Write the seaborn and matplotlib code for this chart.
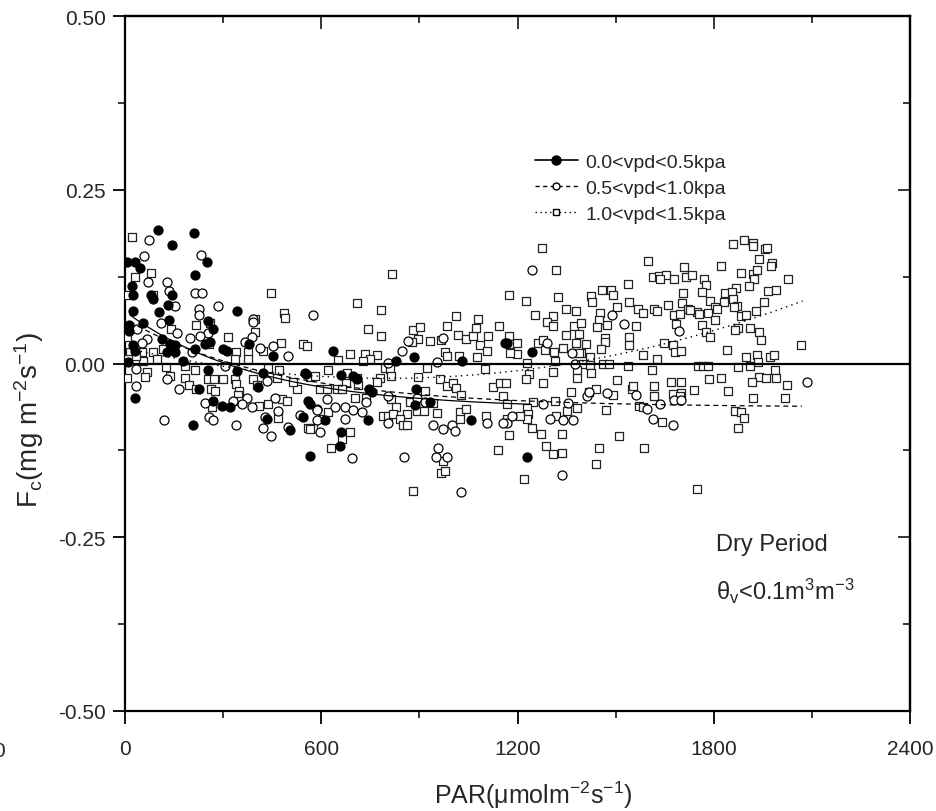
import numpy as np
import pandas as pd
import seaborn as sns
import matplotlib.pyplot as plt
from matplotlib.lines import Line2D
from matplotlib.ticker import MultipleLocator, FixedLocator, FixedFormatter

sns.set_style("ticks")
plt.rcParams['font.family'] = ['Liberation Sans', 'DejaVu Sans']
plt.rcParams['mathtext.fontset'] = 'custom'
plt.rcParams['mathtext.rm'] = 'Liberation Sans'
plt.rcParams['mathtext.default'] = 'regular'
plt.rcParams['axes.unicode_minus'] = False

# (PAR, Fc), one list per vpd class
low_vpd = [
    (102, 0.192), (211, 0.188), (145, 0.170), (6, 0.146), (31, 0.146), (46, 0.138),
    (251, 0.146), (214, 0.128), (20, 0.112), (25, 0.099), (78, 0.098), (87, 0.093),
    (143, 0.098), (132, 0.084), (25, 0.076), (104, 0.074), (341, 0.075), (255, 0.061),
    (135, 0.062), (56, 0.059), (13, 0.056), (13, 0.047), (270, 0.049), (112, 0.035),
    (300, 0.021), (311, 0.018), (260, 0.031), (245, 0.028), (379, 0.028), (153, 0.016),
    (178, 0.004), (341, -0.011), (255, -0.009), (423, -0.013), (550, -0.013), (31, -0.050),
    (227, -0.037), (270, -0.054), (296, -0.061), (321, -0.063), (408, -0.034), (433, -0.080),
    (505, -0.095), (209, -0.088), (560, -0.054), (566, -0.058), (566, -0.133), (453, 0.011),
    (637, 0.018), (885, 0.009), (828, 0.003), (1029, 0.003), (659, -0.017), (698, -0.018),
    (708, -0.022), (746, -0.036), (754, -0.041), (890, -0.037), (887, -0.060), (932, -0.056),
    (611, -0.082), (744, -0.081), (659, -0.098), (657, -0.119), (1058, -0.081), (1167, 0.030),
    (1162, 0.030), (1243, 0.016), (1228, -0.135), (25, 0.026), (31, 0.018), (10, 0.002),
    (153, 0.026), (138, 0.028), (214, 0.021), (127, 0.016), (553, -0.015), (545, -0.077),
]

mid_vpd = [
    (74, 0.178), (58, 0.154), (231, 0.156), (127, 0.117), (135, 0.105), (69, 0.118),
    (214, 0.102), (234, 0.101), (153, 0.083), (285, 0.083), (226, 0.078), (226, 0.070),
    (109, 0.058), (392, 0.064), (392, 0.060), (576, 0.070), (36, 0.050), (160, 0.044),
    (255, 0.044), (199, 0.036), (229, 0.039), (66, 0.035), (51, 0.030), (367, 0.031),
    (387, 0.038), (453, 0.025), (499, 0.011), (413, 0.022), (204, 0.016), (306, -0.003),
    (34, -0.008), (127, -0.022), (34, -0.033), (166, -0.036), (433, -0.025), (459, -0.050),
    (372, -0.049), (357, -0.058), (387, -0.063), (245, -0.057), (331, -0.054), (469, -0.068),
    (535, -0.074), (428, -0.077), (258, -0.077), (268, -0.082), (119, -0.082), (339, -0.088),
    (423, -0.093), (445, -0.104), (499, -0.092), (586, -0.065), (586, -0.082), (596, -0.099),
    (848, 0.018), (866, 0.033), (973, 0.036), (953, 0.002), (805, 0.001), (617, -0.051),
    (642, -0.062), (588, -0.067), (673, -0.063), (696, -0.067), (724, -0.070), (738, -0.055),
    (805, -0.047), (892, -0.050), (917, -0.056), (805, -0.085), (673, -0.080), (943, -0.089),
    (973, -0.094), (999, -0.089), (1009, -0.097), (695, -0.136), (854, -0.135), (958, -0.121),
    (951, -0.135), (983, -0.135), (1026, -0.185), (1108, -0.086), (1167, -0.085),
    (1245, 0.134), (1490, 0.070), (1527, 0.057), (1695, 0.047), (1289, 0.030), (1366, 0.015),
    (1377, -0.001), (1413, -0.047), (1420, -0.041), (1474, -0.043), (1562, -0.046), (1597, -0.066),
    (1636, -0.058), (1678, -0.053), (1699, -0.053), (1613, -0.080), (1676, -0.089), (1279, -0.058),
    (1355, -0.057), (1299, -0.080), (1340, -0.081), (1369, -0.081), (1157, -0.085), (1182, -0.075),
    (1335, -0.160), (2084, -0.026),
]

high_vpd = [
    (20, 0.182), (78, 0.130), (31, 0.125), (7, 0.099), (85, 0.099), (446, 0.102),
    (487, 0.073), (489, 0.065), (397, 0.064), (217, 0.056), (260, 0.059), (141, 0.050),
    (397, 0.046), (316, 0.038), (7, 0.038), (477, 0.030), (545, 0.028), (557, 0.025),
    (258, 0.028), (138, 0.026), (115, 0.021), (87, 0.016), (51, 0.016), (15, 0.016),
    (10, 0.006), (339, 0.017), (377, 0.017), (336, 0.007), (377, 0.007), (423, 0.018),
    (97, 0.006), (56, 0.004), (34, 0.011), (125, -0.005), (183, -0.004), (214, -0.009),
    (68, -0.012), (61, -0.020), (7, -0.021), (138, -0.018), (183, -0.021), (197, -0.031),
    (217, -0.037), (255, -0.022), (273, -0.022), (300, -0.023), (262, -0.037), (275, -0.039),
    (336, -0.022), (339, -0.030), (350, -0.039), (347, -0.045), (392, -0.022), (403, -0.031),
    (438, -0.007), (472, -0.009), (464, -0.021), (527, -0.037), (566, -0.020), (581, -0.018),
    (514, -0.026), (265, -0.063), (350, -0.054), (411, -0.061), (438, -0.058), (479, -0.051),
    (494, -0.054), (469, -0.079), (560, -0.093), (575, -0.093),
    (815, 0.129), (708, 0.087), (783, 0.077), (1175, 0.098), (1013, 0.069), (1078, 0.064),
    (744, 0.049), (783, 0.039), (879, 0.048), (902, 0.052), (897, 0.035), (877, 0.031),
    (932, 0.033), (965, 0.034), (983, 0.054), (1017, 0.041), (1044, 0.035), (1065, 0.040),
    (1072, 0.051), (1111, 0.039), (1144, 0.054), (1084, 0.026), (1106, 0.018), (1076, 0.009),
    (978, 0.016), (983, 0.011), (1022, 0.011), (734, 0.014), (770, 0.012), (748, 0.006),
    (729, 0.003), (688, 0.014), (650, 0.005), (622, -0.009), (678, -0.013), (708, -0.021),
    (795, -0.007), (810, -0.008), (812, -0.018), (780, -0.021), (897, -0.020), (924, -0.007),
    (963, -0.022), (983, -0.033), (1002, -0.028), (1012, -0.035), (1027, -0.045), (1100, -0.008),
    (1126, -0.034), (1146, -0.028), (1165, -0.028), (1157, -0.047), (1167, -0.058), (676, -0.028),
    (713, -0.031), (647, -0.037), (662, -0.037), (596, -0.037), (617, -0.037), (770, -0.026),
    (917, -0.039), (813, -0.051), (871, -0.056), (894, -0.069), (943, -0.057), (703, -0.049),
    (737, -0.049), (828, -0.063), (790, -0.075), (805, -0.076), (820, -0.073), (861, -0.073),
    (841, -0.080), (851, -0.088), (861, -0.088), (914, -0.068), (953, -0.071), (1024, -0.070),
    (1044, -0.065), (1024, -0.080), (1103, -0.075), (606, -0.080), (622, -0.070), (688, -0.099),
    (662, -0.109), (566, -0.094), (630, -0.122), (973, -0.140), (966, -0.157), (978, -0.154),
    (881, -0.184), (1141, -0.124), (1175, -0.103), (1167, -0.080),
    (1276, 0.166), (1318, 0.135), (1598, 0.147), (1613, 0.125), (1633, 0.126), (1654, 0.127),
    (1678, 0.122), (1636, 0.122), (1709, 0.139), (1715, 0.125), (1225, 0.090),
    (1325, 0.095), (1424, 0.097), (1427, 0.088), (1459, 0.106), (1486, 0.106), (1493, 0.098),
    (1537, 0.114), (1705, 0.101), (1253, 0.070), (1309, 0.069), (1289, 0.060), (1309, 0.054),
    (1348, 0.079), (1378, 0.075), (1452, 0.072), (1450, 0.062), (1503, 0.081), (1542, 0.088),
    (1567, 0.078), (1584, 0.072), (1617, 0.078), (1627, 0.075), (1659, 0.084), (1702, 0.087),
    (1720, 0.078), (1748, 0.074), (1678, 0.070), (1697, 0.071), (1373, 0.054), (1394, 0.058),
    (1389, 0.043), (1474, 0.055), (1444, 0.052), (1561, 0.054), (1686, 0.057), (1347, 0.041),
    (1378, 0.029), (1409, 0.028), (1467, 0.036), (1467, 0.031), (1542, 0.038), (1542, 0.026),
    (1648, 0.029), (1674, 0.027), (1683, 0.017), (1700, 0.018), (1175, 0.039), (1177, 0.028),
    (1199, 0.029), (1197, 0.014), (1177, 0.015), (1264, 0.030), (1279, 0.034), (1284, 0.020),
    (1312, 0.017), (1340, 0.022), (1394, 0.015), (1389, 0.015), (1421, 0.009), (1455, 0.021),
    (1583, 0.012), (1627, 0.007), (1315, 0.004), (1228, 0.001), (1401, -0.001), (1421, -0.002),
    (1383, -0.010), (1424, -0.013), (1462, -0.001), (1481, -0.001), (1539, -0.004), (1610, -0.009),
    (1307, -0.012), (1236, -0.015), (1226, -0.022), (1383, -0.021), (1279, -0.028), (1503, -0.024),
    (1551, -0.036), (1552, -0.032), (1618, -0.033), (1669, -0.027), (1700, -0.026), (1363, -0.041),
    (1420, -0.041), (1440, -0.037), (1493, -0.045), (1618, -0.047), (1676, -0.044), (1700, -0.043),
    (1697, -0.047), (1248, -0.055), (1315, -0.054), (1381, -0.064), (1350, -0.068), (1470, -0.067),
    (1572, -0.061), (1584, -0.062), (1228, -0.064), (1233, -0.073), (1230, -0.080), (1208, -0.076),
    (1319, -0.076), (1643, -0.084), (1245, -0.093), (1271, -0.101), (1337, -0.101), (1511, -0.105),
    (1287, -0.118), (1307, -0.130), (1335, -0.129), (1449, -0.121), (1587, -0.122), (1439, -0.144),
    (1221, -0.166), (1750, -0.180),
    (1858, 0.172), (1893, 0.178), (1919, 0.173), (1921, 0.169), (1956, 0.165), (1964, 0.166),
    (1939, 0.150), (1977, 0.144), (1974, 0.141), (1822, 0.140), (1883, 0.130), (1921, 0.129),
    (1933, 0.134), (1924, 0.122), (2026, 0.122), (1735, 0.127), (1770, 0.122), (1776, 0.113),
    (1765, 0.103), (1908, 0.112), (1967, 0.105), (1989, 0.106), (1867, 0.108), (1834, 0.102),
    (1855, 0.103), (1858, 0.093), (1788, 0.090), (1832, 0.089), (1953, 0.089), (1870, 0.083),
    (1863, 0.082), (1804, 0.082), (1811, 0.079), (1727, 0.077), (1756, 0.071), (1783, 0.073),
    (1804, 0.063), (1882, 0.069), (1898, 0.070), (1928, 0.076), (1765, 0.055), (1776, 0.045),
    (1790, 0.038), (1873, 0.051), (1865, 0.048), (1911, 0.051), (1939, 0.046), (1945, 0.034),
    (2067, 0.027), (1839, 0.020), (1898, 0.009), (1931, 0.012), (1973, 0.009), (1985, 0.012),
    (1936, 0.002), (1911, -0.003), (1875, -0.005), (1753, -0.003), (1768, -0.003), (1783, -0.004),
    (1987, -0.009), (1786, -0.023), (1821, -0.021), (1939, -0.019), (1959, -0.021), (1990, -0.021),
    (1916, -0.027), (2025, -0.031), (1739, -0.038), (1844, -0.039), (1921, -0.049), (2019, -0.050),
    (1865, -0.069), (1884, -0.070), (1893, -0.079), (1875, -0.093),
]

labels = ["0.0<vpd<0.5kpa", "0.5<vpd<1.0kpa", "1.0<vpd<1.5kpa"]

# fitted curves: exponential decay for the two lower classes, parabola for the top one
low_fit = {"a": -0.065, "b": 0.14, "c": 400, "x_end": 1240}
mid_fit = {"a": -0.063, "b": 0.127, "c": 466, "x_end": 2070}
high_fit = {"k": 6.88e-8, "x0": 800, "y0": -0.0213, "x_end": 2072}

low = pd.DataFrame(low_vpd, columns=["PAR", "Fc"])
mid = pd.DataFrame(mid_vpd, columns=["PAR", "Fc"])
high = pd.DataFrame(high_vpd, columns=["PAR", "Fc"])

fig, ax = plt.subplots(figsize=(9.37, 8.12), dpi=100)
fig.subplots_adjust(left=0.1334, right=0.9712, bottom=0.1232, top=0.979)

sns.scatterplot(data=high, x="PAR", y="Fc", marker="s", s=30, color="white",
                edgecolor="#222222", linewidth=0.9, ax=ax, zorder=3)
sns.scatterplot(data=mid, x="PAR", y="Fc", marker="o", s=42, color="white",
                edgecolor="black", linewidth=0.9, ax=ax, zorder=3)
sns.scatterplot(data=low, x="PAR", y="Fc", marker="o", s=42, color="black",
                edgecolor="black", linewidth=0.9, ax=ax, zorder=3)

ax.axhline(0, color="black", lw=1.6, zorder=4)

xs = np.linspace(15, low_fit["x_end"], 200)
sns.lineplot(x=xs, y=low_fit["a"] + low_fit["b"] * np.exp(-xs / low_fit["c"]),
             color="black", lw=0.9, sort=False, estimator=None, ax=ax, zorder=5)
xs = np.linspace(15, mid_fit["x_end"], 200)
sns.lineplot(x=xs, y=mid_fit["a"] + mid_fit["b"] * np.exp(-xs / mid_fit["c"]),
             color="black", lw=0.9, ls=(0, (4, 3)), sort=False, estimator=None, ax=ax, zorder=5)
xs = np.linspace(15, high_fit["x_end"], 200)
sns.lineplot(x=xs, y=high_fit["y0"] + high_fit["k"] * (xs - high_fit["x0"]) ** 2,
             color="black", lw=1.0, ls=(0, (1, 3)), sort=False, estimator=None, ax=ax, zorder=5)

ax.set_xlim(0, 2400)
ax.set_ylim(-0.5, 0.5)
ax.xaxis.set_major_locator(MultipleLocator(600))
ax.xaxis.set_minor_locator(MultipleLocator(300))
yt = [-0.5, -0.25, 0, 0.25, 0.5]
ax.yaxis.set_major_locator(FixedLocator(yt))
ax.yaxis.set_major_formatter(FixedFormatter(["-0.50", "-0.25", "0.00", "0.25", "0.50"]))
ax.yaxis.set_minor_locator(MultipleLocator(0.125))
ax.tick_params(axis="both", which="major", direction="out", length=9, width=1.3,
               labelsize=15, color="black")
ax.tick_params(axis="both", which="minor", direction="out", length=5, width=1.3)
ax.tick_params(axis="x", pad=11)
ax.tick_params(axis="y", pad=5)
for sp in ax.spines.values():
    sp.set_visible(True)
    sp.set_linewidth(1.6)
    sp.set_color("black")

top = ax.secondary_xaxis("top")
top.xaxis.set_major_locator(MultipleLocator(600))
top.xaxis.set_minor_locator(MultipleLocator(300))
top.tick_params(which="both", direction="in", labeltop=False, width=1.3)
top.tick_params(which="major", length=9)
top.tick_params(which="minor", length=5)
top.spines["top"].set_linewidth(1.6)
right = ax.secondary_yaxis("right")
right.yaxis.set_major_locator(FixedLocator(yt))
right.yaxis.set_minor_locator(MultipleLocator(0.125))
right.tick_params(which="both", direction="in", labelright=False, width=1.3)
right.tick_params(which="major", length=9)
right.tick_params(which="minor", length=5)
right.spines["right"].set_linewidth(1.6)

ax.set_xlabel(r"PAR($\mu$molm$^{-2}$s$^{-1}$)", fontsize=18)
ax.xaxis.set_label_coords(0.52, -0.097)
ax.set_ylabel(r"F$_{c}$(mg m$^{-2}$s$^{-1}$)", fontsize=20)
ax.yaxis.set_label_coords(-0.10, 0.42)

handles = [
    Line2D([], [], color="black", ls="-", lw=1.2, marker="o", ms=6.5, mfc="black", mec="black"),
    Line2D([], [], color="black", ls=(0, (3, 2.5)), lw=1.0, marker="o", ms=5, mfc="white", mec="black"),
    Line2D([], [], color="black", ls=(0, (1, 2.5)), lw=1.0, marker="s", ms=5, mfc="white", mec="black"),
]
ax.legend(handles, labels, loc="upper left", bbox_to_anchor=(0.522, 0.803), frameon=False,
          fontsize=14, handlelength=2.2, handletextpad=0.4, labelspacing=0.45,
          borderpad=0, borderaxespad=0)

ax.text(0.753, 0.24, "Dry Period", transform=ax.transAxes, fontsize=17, va="center")
ax.text(0.753, 0.174, r"θ$_{v}$<0.1m$^{3}$m$^{-3}$", transform=ax.transAxes,
        fontsize=17, va="center")

fig.text(-0.001, 1 - 752 / 812, "0", fontsize=15, ha="center", va="center")

fig.savefig("out.png", dpi=100)
